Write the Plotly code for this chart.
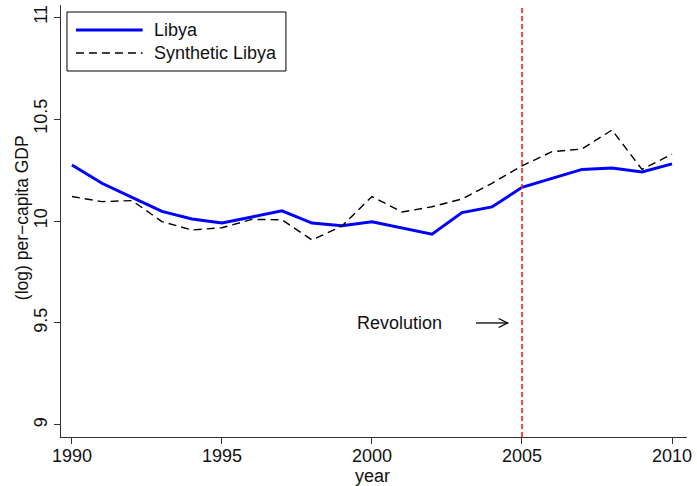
import plotly.graph_objects as go

years = list(range(1990, 2011))
libya = [10.275, 10.185, 10.116, 10.047, 10.010, 9.990, 10.020, 10.050, 9.990, 9.977,
         9.996, 9.964, 9.935, 10.041, 10.069, 10.165, 10.209, 10.253, 10.260, 10.240, 10.280]
synthetic = [10.120, 10.095, 10.100, 9.997, 9.956, 9.967, 10.008, 10.006, 9.907, 9.975,
             10.120, 10.044, 10.070, 10.108, 10.185, 10.270, 10.340, 10.353, 10.446, 10.253, 10.328]
x_ticks = [1990, 1995, 2000, 2005, 2010]
y_ticks = [9, 9.5, 10, 10.5, 11]
y_tick_text = ["9", "9.5", "10", "10.5", "11"]
event_year = 2005
event_label = "Revolution"

FONT = "Liberation Sans, Arial, Helvetica, sans-serif"
FS = 18
AX = "#333333"
TXT = "#111111"

fig = go.Figure()
fig.add_trace(go.Scatter(x=years, y=libya, mode="lines", name="Libya",
                         line=dict(color="#0000ff", width=3), showlegend=False))
fig.add_trace(go.Scatter(x=years, y=synthetic, mode="lines", name="Synthetic Libya",
                         line=dict(color="#000000", width=1.4, dash="8px,5px"), showlegend=False))

# treatment year marker
fig.add_shape(type="line", xref="x", yref="paper", x0=event_year, x1=event_year, y0=0, y1=0.998,
              line=dict(color="#ff2020", width=1.6, dash="5px,3px"))

# arrow pointing at the event line: shaft plus open chevron head
tip = event_year - 0.48
fig.add_shape(type="line", xref="x", yref="y", x0=event_year - 1.53, x1=tip, y0=9.5, y1=9.5,
              line=dict(color="#000000", width=1.3))
fig.add_shape(type="path", xref="x", yref="y", xsizemode="pixel", ysizemode="pixel",
              xanchor=tip, yanchor=9.5, path="M -9,4.5 L 0,0 L -9,-4.5",
              line=dict(color="#000000", width=1.3))
fig.add_annotation(x=event_year - 4.08, y=9.5, xref="x", yref="y", text=event_label,
                   showarrow=False, font=dict(family=FONT, size=FS, color=TXT))

# legend box drawn in paper coordinates
def px(xp):
    return (xp - 61) / 629

def py(yp):
    return (437 - yp) / 432

fig.add_shape(type="rect", xref="paper", yref="paper", x0=px(67), x1=px(287), y0=py(71), y1=py(12),
              line=dict(color="#000000", width=1), fillcolor="white", layer="above")
fig.add_shape(type="line", xref="paper", yref="paper", x0=px(76), x1=px(143), y0=py(30), y1=py(30),
              line=dict(color="#0000ff", width=3), layer="above")
fig.add_shape(type="line", xref="paper", yref="paper", x0=px(76), x1=px(143), y0=py(53), y1=py(53),
              line=dict(color="#000000", width=1.4, dash="8px,5px"), layer="above")
for label, yy in [("Libya", 30), ("Synthetic Libya", 53)]:
    fig.add_annotation(x=px(152), y=py(yy), xref="paper", yref="paper", text=label,
                       showarrow=False, xanchor="left", yanchor="middle",
                       font=dict(family=FONT, size=FS, color=TXT))

# axis titles
fig.add_annotation(x=px(22), y=py(218), xref="paper", yref="paper",
                   text="(log) per\u2212capita GDP", textangle=-90, showarrow=False,
                   xanchor="center", yanchor="middle",
                   font=dict(family=FONT, size=17.5, color=TXT))
fig.add_annotation(x=px(373.5), y=py(476), xref="paper", yref="paper", text="year",
                   showarrow=False, xanchor="center", yanchor="middle",
                   font=dict(family=FONT, size=FS, color=TXT))

fig.update_layout(
    width=697, height=486,
    margin=dict(l=61, r=7, t=5, b=49),
    paper_bgcolor="white", plot_bgcolor="white",
    font=dict(family=FONT, size=FS, color=TXT),
    xaxis=dict(range=[1989.635, 2010.5], tickvals=x_ticks, ticks="outside", ticklen=6,
               ticklabelstandoff=-4,
               tickcolor=AX, showline=True, linecolor=AX, linewidth=1.3, showgrid=False,
               zeroline=False, tickfont=dict(family=FONT, size=FS, color=TXT)),
    yaxis=dict(range=[8.941, 11.059], tickvals=y_ticks, ticktext=y_tick_text, tickangle=-90,
               ticks="outside", ticklen=6, tickcolor=AX, showline=True, linecolor=AX,
               linewidth=1.3, showgrid=False, zeroline=False,
               tickfont=dict(family=FONT, size=FS, color=TXT)),
)

fig.write_html("out.html")
